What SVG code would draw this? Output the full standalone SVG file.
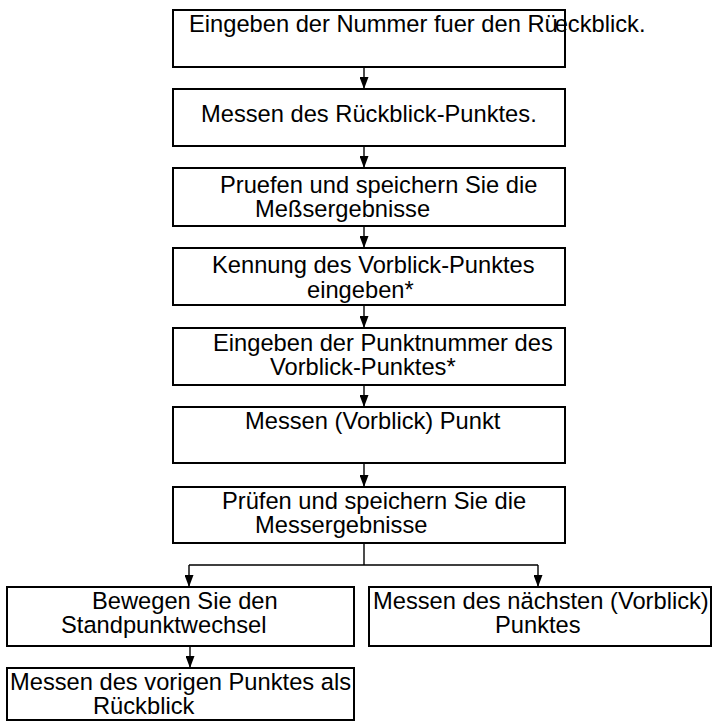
<svg xmlns="http://www.w3.org/2000/svg" width="714" height="721" viewBox="0 0 714 721">
<style>
.box{fill:#fff;stroke:#000;stroke-width:2}
.t{font-family:"Liberation Sans",Arial,sans-serif;font-size:23.7px;fill:#000}
.c{fill:none;stroke:#000;stroke-width:1.4}
</style>
<defs>
<marker id="ah" viewBox="0 0 12 9" refX="12" refY="4.5" markerWidth="12" markerHeight="9" markerUnits="userSpaceOnUse" orient="auto">
<path d="M0,0 L12,4.5 L0,9 z" fill="#000"/>
</marker>
</defs>
<rect width="714" height="721" fill="#fff"/>
<g id="connectors">
<path class="c" d="M364,67 V89" marker-end="url(#ah)"/>
<path class="c" d="M364,146 V168" marker-end="url(#ah)"/>
<path class="c" d="M364,226 V248" marker-end="url(#ah)"/>
<path class="c" d="M364,305 V328" marker-end="url(#ah)"/>
<path class="c" d="M364,385 V407" marker-end="url(#ah)"/>
<path class="c" d="M364,463 V487" marker-end="url(#ah)"/>
<path class="c" d="M364,543 V565 M189,565 H538"/>
<path class="c" d="M189,565 V587" marker-end="url(#ah)"/>
<path class="c" d="M538,565 V587" marker-end="url(#ah)"/>
<path class="c" d="M190,646 V668" marker-end="url(#ah)"/>
</g>
<g id="n1"><rect class="box" x="173" y="10" width="392" height="57"/><text class="t" x="189" y="32">Eingeben der Nummer fuer den Rü<tspan dx="-3">eckblick.</tspan></text></g>
<g id="n2"><rect class="box" x="173" y="89" width="392" height="57"/><text class="t" x="201" y="122">Messen des Rückblick-Punktes.</text></g>
<g id="n3"><rect class="box" x="173" y="168" width="392" height="58"/><text class="t"><tspan x="220" y="193">Pruefen und speichern Sie die</tspan><tspan x="255" y="217">Meßsergebnisse</tspan></text></g>
<g id="n4"><rect class="box" x="173" y="248" width="392" height="57"/><text class="t"><tspan x="212" y="273">Kennung des Vorblick-Punktes</tspan><tspan x="307" y="298">eingeben*</tspan></text></g>
<g id="n5"><rect class="box" x="173" y="328" width="392" height="57"/><text class="t"><tspan x="213" y="351">Eingeben der Punktnummer des</tspan><tspan x="270" y="375">Vorblick-Punktes*</tspan></text></g>
<g id="n6"><rect class="box" x="173" y="407" width="392" height="56"/><text class="t" x="245" y="429">Messen (Vorblick) Punkt</text></g>
<g id="n7"><rect class="box" x="173" y="487" width="392" height="56"/><text class="t"><tspan x="222" y="509">Prüfen und speichern Sie die</tspan><tspan x="255" y="533">Messergebnisse</tspan></text></g>
<g id="n8"><rect class="box" x="7" y="587" width="347" height="59"/><text class="t"><tspan x="92" y="609">Bewegen Sie den</tspan><tspan x="61" y="633">Standpunktwechsel</tspan></text></g>
<g id="n9"><rect class="box" x="369" y="587" width="342" height="59"/><text class="t"><tspan x="373" y="609">Messen des nächsten (Vorblick)</tspan><tspan x="495" y="633">Punktes</tspan></text></g>
<g id="n10"><rect class="box" x="7" y="668" width="347" height="52"/><text class="t"><tspan x="10" y="690">Messen des vorigen Punktes als</tspan><tspan x="93" y="714">Rückblick</tspan></text></g>
</svg>
